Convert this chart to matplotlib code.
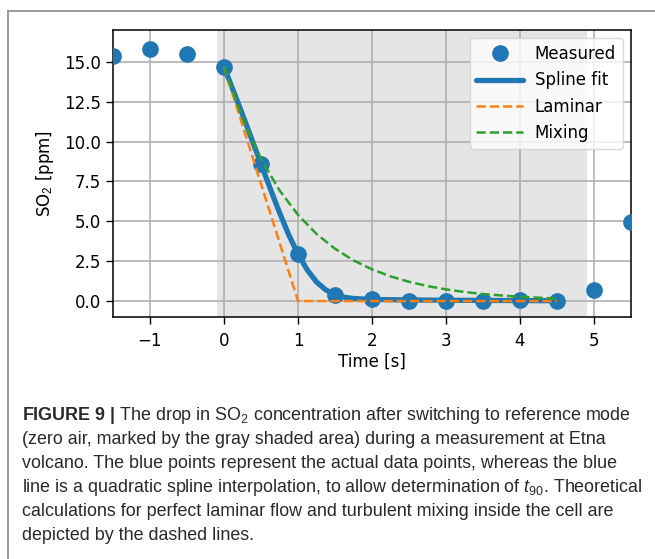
import matplotlib
matplotlib.use("Agg")
import matplotlib.pyplot as plt
from matplotlib.lines import Line2D

# Measured SO2 concentration around the switch to zero air
meas_t = [-1.5, -1.0, -0.5, 0.0, 0.5, 1.0, 1.5, 2.0, 2.5, 3.0, 3.5, 4.0, 4.5, 5.0, 5.5]
meas_v = [15.35, 15.8, 15.5, 14.7, 8.6, 2.95, 0.4, 0.1, 0.03, 0.02, 0.0, 0.05, 0.0, 0.68, 4.95]

# Quadratic spline through the zero-air points
spline_t = [0.0, 0.125, 0.25, 0.375, 0.5, 0.625, 0.75, 0.875, 1.0, 1.125, 1.25,
            1.375, 1.5, 1.625, 1.75, 2.0, 2.5, 3.0, 3.5, 4.0, 4.5]
spline_v = [14.7, 13.2, 11.7, 10.15, 8.6, 7.05, 5.55, 4.15, 2.95, 1.95, 1.2,
            0.7, 0.4, 0.24, 0.16, 0.1, 0.07, 0.05, 0.04, 0.03, 0.02]

# Theoretical decay: laminar flow and perfect mixing
laminar_t = [0.0, 1.0, 4.5]
laminar_v = [14.7, 0.0, 0.0]

mixing_t = [0.0, 0.25, 0.5, 0.75, 1.0, 1.25, 1.5, 1.75, 2.0, 2.25, 2.5, 2.75,
            3.0, 3.25, 3.5, 3.75, 4.0, 4.25, 4.5]
mixing_v = [14.7, 11.45, 8.92, 6.94, 5.41, 4.21, 3.28, 2.55, 1.99, 1.55, 1.21,
            0.94, 0.73, 0.57, 0.44, 0.35, 0.27, 0.21, 0.16]

# Zero-air (reference mode) interval
zero_air = (-0.1, 4.9)

xticks = [-1, 0, 1, 2, 3, 4, 5]
yticks = [0.0, 2.5, 5.0, 7.5, 10.0, 12.5, 15.0]

plt.rcParams["mathtext.fontset"] = "custom"
plt.rcParams["mathtext.rm"] = "Liberation Sans"
plt.rcParams["mathtext.it"] = "Liberation Sans:italic"
plt.rcParams["mathtext.bf"] = "Liberation Sans:bold"

fig = plt.figure(figsize=(6.55, 5.59), dpi=100)
ax = fig.add_axes([113 / 655, 1 - 317 / 559, 518 / 655, 287 / 559])

ax.axvspan(*zero_air, color="#e5e5e5", lw=0, zorder=0)
ax.grid(True, color="#b0b0b0", lw=1.2, zorder=1)
ax.set_axisbelow(True)

ax.plot(meas_t, meas_v, "o", color="#1f77b4", ms=11, label="Measured",
        zorder=3, clip_on=True)
ax.plot(spline_t, spline_v, "-", color="#1f77b4", lw=3.8, label="Spline fit",
        zorder=4, solid_capstyle="round")
ax.plot(laminar_t, laminar_v, "--", color="#ff7f0e", lw=1.8, label="Laminar",
        zorder=5)
ax.plot(mixing_t, mixing_v, "--", color="#2ca02c", lw=1.8, label="Mixing",
        zorder=5)

ax.set_xlim(-1.5, 5.5)
ax.set_ylim(-1.0, 17.0)
ax.set_xticks(xticks)
ax.set_yticks(yticks)
ax.set_xticklabels([f"{t}".replace("-", "\u2212") for t in xticks])
ax.set_yticklabels([f"{v:.1f}" for v in yticks])
ax.tick_params(labelsize=12, length=5, width=1.0)
ax.tick_params(axis="x", pad=6)
for s in ax.spines.values():
    s.set_linewidth(1.1)

ax.set_xlabel("Time [s]", fontsize=12, labelpad=2)
ax.set_ylabel(r"SO$_2$ [ppm]", fontsize=12, labelpad=6)

leg = ax.legend(loc="upper right", fontsize=12, framealpha=0.8,
                borderpad=0.4, handlelength=2.8, labelspacing=0.5,
                handletextpad=0.7)
leg.get_frame().set_edgecolor("#d0d0d0")

# Frame around figure and caption
fig.add_artist(Line2D([8 / 655, 8 / 655], [1 - 11 / 559, 0], color="#8a8a8a",
                      lw=1.2, transform=fig.transFigure))
fig.add_artist(Line2D([8 / 655, 1], [1 - 11 / 559, 1 - 11 / 559],
                      color="#8a8a8a", lw=1.2, transform=fig.transFigure))

caption = [
    r"$\mathbf{FIGURE\ 9\ |}$ The drop in SO$_\mathregular{2}$ concentration after switching to reference mode",
    "(zero air, marked by the gray shaded area) during a measurement at Etna",
    "volcano. The blue points represent the actual data points, whereas the blue",
    r"line is a quadratic spline interpolation, to allow determination of $t_\mathregular{90}$. Theoretical",
    "calculations for perfect laminar flow and turbulent mixing inside the cell are",
    "depicted by the dashed lines.",
]
for i, line in enumerate(caption):
    fig.text(22 / 655, 1 - (420 + 24 * i) / 559, line, fontsize=12.9,
             family="Liberation Sans", color="#2a2a2a", va="baseline",
             ha="left")

fig.savefig("out.png", dpi=100)
